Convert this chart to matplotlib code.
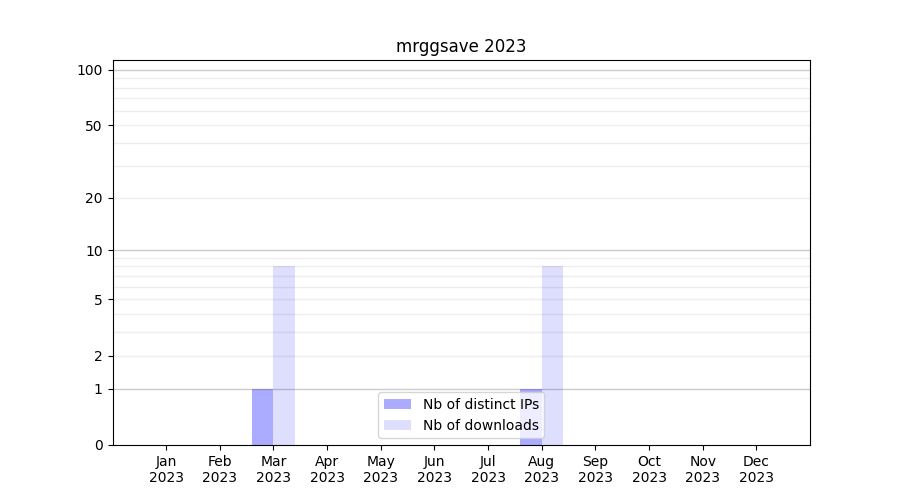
import numpy as np
import matplotlib
matplotlib.use("Agg")
import matplotlib.pyplot as plt

months = ["Jan", "Feb", "Mar", "Apr", "May", "Jun", "Jul", "Aug", "Sep", "Oct", "Nov", "Dec"]
year = "2023"
distinct_ips = [0, 0, 1, 0, 0, 0, 0, 1, 0, 0, 0, 0]
downloads = [0, 0, 8, 0, 0, 0, 0, 8, 0, 0, 0, 0]
ytick_vals = [0, 1, 2, 5, 10, 20, 50, 100]


def fwd(v):
    return np.log10(1 + np.clip(v, 0, None))


def inv(v):
    return 10 ** v - 1


fig, ax = plt.subplots(figsize=(9, 5), dpi=100)
ax.set_yscale("function", functions=(fwd, inv))

x = np.arange(len(months))
ax.bar(x - 0.2, distinct_ips, width=0.4, color="blue", alpha=0.33, label="Nb of distinct IPs")
ax.bar(x + 0.2, downloads, width=0.4, color="blue", alpha=0.13, label="Nb of downloads")

# grid lines: major at decades, light ones in between
for d in [1, 10, 100]:
    ax.axhline(d, color="#cccccc", lw=1, zorder=0)
for d in [1, 10]:
    for k in range(2, 10):
        ax.axhline(d * k, color="#eeeeee", lw=1, zorder=0)

ax.set_yticks(ytick_vals)
ax.set_yticklabels([str(v) for v in ytick_vals])
ax.minorticks_off()
ax.set_ylim(0, 113)
ax.set_xlim(-1, 12)
ax.set_xticks(x)
ax.set_xticklabels([m + "\n" + year for m in months])
ax.set_title("mrggsave 2023")
ax.legend(loc="lower center")

fig.savefig("out.png")
